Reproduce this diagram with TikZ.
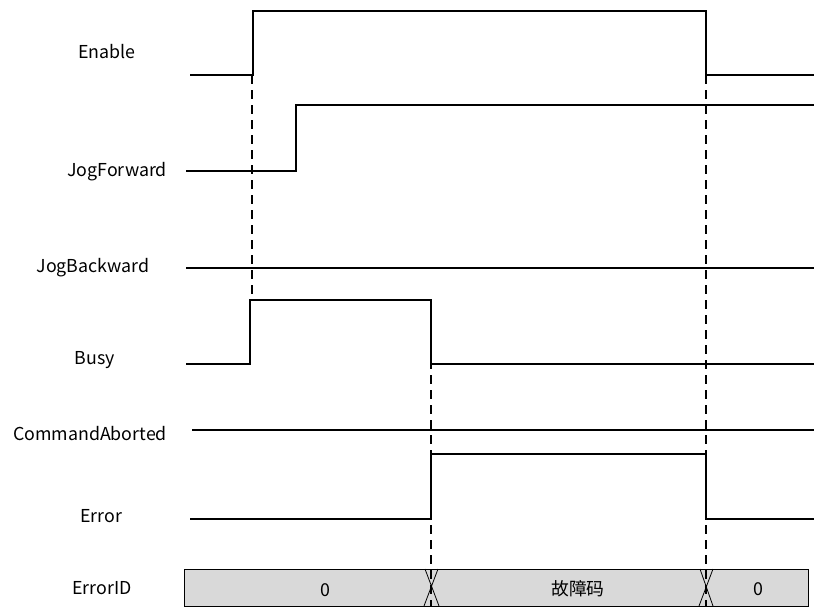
\documentclass[tikz,border=0pt]{standalone}
\usepackage{fontspec}
\setmainfont{Noto Sans CJK SC}
\begin{document}
\begin{tikzpicture}[x=1pt,y=-1pt,
  sig/.style={line width=1.8pt,line join=miter},
  guide/.style={line width=1.2pt,dash pattern=on 9pt off 6pt},
  lbl/.style={font=\fontsize{17.8}{20}\selectfont,inner sep=0pt},
  busbox/.style={draw,line width=0.8pt,fill=black!15},
  cross/.style={line width=0.8pt}]
\useasboundingbox (0,0) rectangle (814,610);
% labels
\node[lbl] (lEnable) at (107,52) {Enable};
\node[lbl] (lJogF) at (117,172) {JogForward};
\node[lbl] (lJogB) at (93,268) {JogBackward};
\node[lbl] (lBusy) at (95,360) {Busy};
\node[lbl] (lCmd) at (90,434) {CommandAborted};
\node[lbl] (lErr) at (101,516) {Error};
\node[lbl] (lErrID) at (102,588) {ErrorID};
% ErrorID bus
\draw[busbox] (184,569) rectangle (808,606);
\draw[cross] (425,569) -- (439,606) (438,569) -- (424,606);
\draw[cross] (700,569) -- (713,606) (713,569) -- (699,606);
\node[lbl] (v0) at (325,590) {0};
\node[lbl] (v1) at (578,589) {故障码};
\node[lbl] (v2) at (758,589) {0};
% guides
\draw[guide] (252,75) -- (252,300);
\draw[guide] (431,300) -- (431,606);
\draw[guide] (706,75) -- (706,606);
% waveforms
\draw[sig] (190,75) -- (253,75) -- (253,11) -- (706,11) -- (706,75) -- (814,75);
\draw[sig] (186,171) -- (296,171) -- (296,105) -- (814,105);
\draw[sig] (186,268) -- (814,268);
\draw[sig] (186,364) -- (250,364) -- (250,300) -- (431,300) -- (431,364) -- (814,364);
\draw[sig] (192,430) -- (814,430);
\draw[sig] (190,519) -- (431,519) -- (431,454) -- (706,454) -- (706,519) -- (814,519);
\end{tikzpicture}
\end{document}
